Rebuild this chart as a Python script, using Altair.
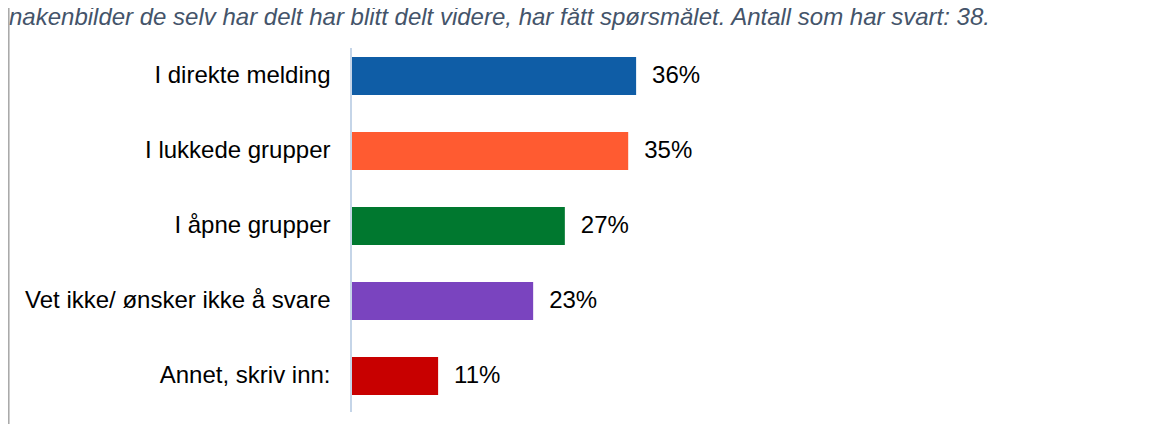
import altair as alt
import pandas as pd

categories = ["I direkte melding", "I lukkede grupper", "I åpne grupper",
              "Vet ikke/ ønsker ikke å svare", "Annet, skriv inn:"]
values = [36, 35, 27, 23, 11]
labels = ["36%", "35%", "27%", "23%", "11%"]
colors = ["#0F5DA6", "#FF5B31", "#00782F", "#7A44BF", "#C80000"]
title_text = "nakenbilder de selv har delt har blitt delt videre, har fått spørsmålet. Antall som har svart: 38."

df = pd.DataFrame({"cat": categories, "val": values, "lab": labels, "col": colors})

FONT = "Liberation Sans"

y_enc = alt.Y("cat:N", sort=categories,
              scale=alt.Scale(paddingInner=0.493, paddingOuter=0.2465),
              axis=alt.Axis(title=None, ticks=False, labelFontSize=24, labelColor="#000000",
                            labelFont=FONT, labelPadding=21, domain=False, labelLimit=500))
x_enc = alt.X("val:Q", scale=alt.Scale(domain=[0, 100]), axis=None)

bars = alt.Chart(df).mark_bar().encode(
    x=x_enc, y=y_enc,
    color=alt.Color("col:N", scale=None),
)

texts = alt.Chart(df).mark_text(align="left", baseline="middle", dx=16, fontSize=24,
                                font=FONT, color="#000000").encode(
    x="val:Q", y=alt.Y("cat:N", sort=categories), text="lab:N"
)

axis_line = alt.Chart(pd.DataFrame({"a": [0]})).mark_rule(color="#C5D5E8", strokeWidth=2).encode(
    x=alt.value(0), y=alt.value(9.5), y2=alt.value(373.5)
)

title = alt.Chart(pd.DataFrame({"t": [title_text]})).mark_text(
    align="left", baseline="alphabetic", fontSize=24, font=FONT, fontStyle="italic",
    color="#44546A"
).encode(x=alt.value(-342), y=alt.value(-13.5), text="t:N")

border = alt.Chart(pd.DataFrame({"a": [0]})).mark_rule(color="#A6A6A6", strokeWidth=1.5).encode(
    x=alt.value(-342.2), y=alt.value(-40), y2=alt.value(400)
)

chart = alt.layer(bars, axis_line, texts, title, border).properties(
    width=792, height=375,
    autosize=alt.AutoSizeParams(type="none"),
    padding={"left": 343, "top": 30.5, "right": 10, "bottom": 10},
).configure_view(stroke=None)

chart.save("out.html", embed_options={"renderer": "svg", "actions": False})
